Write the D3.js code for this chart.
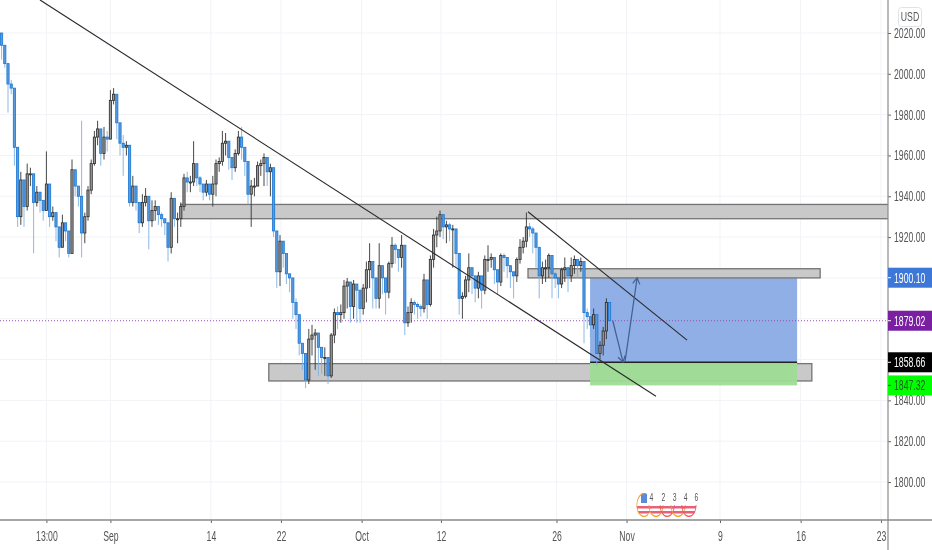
<!DOCTYPE html>
<html>
<head>
<meta charset="utf-8">
<script src="https://d3js.org/d3.v7.min.js"></script>
<style>
    html, body { margin: 0; padding: 0; background: #fff; overflow: hidden; }
    text { font-family: "Liberation Sans", sans-serif; }
    svg { filter: blur(0.35px); }
</style>
</head>
<body>
<div id="chart"></div>
<script>
// Price bars, open of a bar is the previous close
const firstOpen = 2020;
const closes = [
    2014,2005,1995,1993,1964,1930,1948,1935,1951,1951,
    1937,1942,1938,1933,1946,1930,1932,1925,1915,1927,
    1923,1912,1953,1945,1940,1922,1930,1943,1956,1969,
    1973,1961,1969,1968,1987,1990,1976,1966,1964,1965,
    1937,1945,1937,1927,1937,1940,1928,1933,1935,1931,
    1929,1927,1915,1939,1929,1929,1935,1949,1947,1947,
    1956,1949,1946,1942,1946,1941,1946,1956,1957,1966,
    1967,1959,1954,1961,1969,1964,1957,1941,1945,1945,
    1955,1956,1959,1952,1954,1923,1903,1918,1912,1902,
    1900,1888,1882,1868,1863,1850,1870,1872,1873,1866,
    1861,1861,1852,1872,1883,1882,1883,1896,1898,1886,
    1897,1894,1885,1895,1904,1908,1900,1890,1906,1900,
    1893,1907,1916,1914,1910,1916,1878,1883,1888,1887,
    1886,1885,1899,1887,1909,1921,1923,1931,1925,1926,
    1924,1924,1912,1890,1891,1899,1905,1901,1895,1901,
    1894,1909,1909,1910,1904,1898,1911,1910,1906,1903,
    1901,1909,1915,1918,1925,1924,1922,1915,1901,1905,
    1905,1911,1902,1900,1897,1904,1905,1901,1906,1909,
    1906,1908,1883,1881,1877,1882,1863,1867,1874,1888,1879
];
const highs = [
    2020,2014,2005,1997,1993,1964,1952,1948,1956,1954,
    1951,1945,1942,1938,1962,1946,1935,1932,1925,1931,
    1927,1923,1958,1953,1945,1977,1932,1945,1958,1972,
    1977,1973,1974,1972,1992,1993,1990,1976,1970,1967,
    1965,1950,1945,1937,1941,1944,1940,1938,1938,1935,
    1932,1929,1927,1942,1939,1932,1937,1951,1952,1950,
    1967,1956,1950,1946,1948,1946,1950,1958,1959,1972,
    1971,1967,1959,1963,1972,1974,1964,1957,1948,1949,
    1957,1958,1961,1959,1956,1954,1923,1921,1918,1912,
    1902,1900,1890,1882,1868,1863,1875,1877,1875,1873,
    1866,1866,1861,1873,1885,1886,1887,1899,1900,1898,
    1899,1897,1894,1897,1908,1917,1908,1900,1917,1906,
    1900,1908,1920,1917,1914,1921,1916,1886,1890,1889,
    1888,1887,1902,1899,1911,1924,1930,1933,1931,1928,
    1927,1926,1924,1912,1893,1901,1912,1905,1901,1903,
    1901,1911,1916,1912,1910,1904,1912,1912,1910,1906,
    1903,1910,1919,1920,1932,1927,1925,1922,1915,1908,
    1909,1912,1911,1903,1900,1905,1910,1905,1910,1911,
    1909,1910,1908,1885,1881,1885,1882,1869,1876,1890,1888
];
const lows = [
    2007,2003,1981,1990,1955,1925,1926,1925,1933,1945,
    1912,1935,1932,1928,1933,1925,1928,1918,1910,1915,
    1918,1910,1912,1940,1935,1910,1917,1928,1941,1955,
    1965,1955,1958,1962,1968,1985,1968,1960,1950,1960,
    1935,1935,1933,1922,1925,1935,1914,1925,1928,1926,
    1925,1921,1908,1912,1925,1917,1925,1933,1942,1942,
    1945,1945,1942,1938,1940,1938,1935,1940,1952,1955,
    1960,1953,1948,1952,1960,1958,1950,1936,1925,1940,
    1945,1950,1945,1945,1940,1920,1895,1896,1905,1897,
    1893,1880,1875,1862,1855,1846,1848,1862,1855,1852,
    1853,1852,1848,1851,1868,1875,1878,1880,1885,1878,
    1880,1878,1878,1882,1888,1895,1885,1885,1885,1892,
    1882,1890,1905,1907,1903,1905,1872,1876,1878,1882,
    1880,1881,1883,1880,1886,1905,1915,1920,1919,1917,
    1918,1905,1905,1882,1880,1890,1893,1892,1888,1890,
    1885,1892,1903,1905,1897,1892,1896,1903,1900,1895,
    1890,1898,1907,1912,1915,1920,1912,1905,1890,1897,
    1898,1900,1890,1895,1890,1895,1898,1893,1898,1902,
    1900,1903,1868,1875,1871,1875,1857,1860,1862,1870,1875
];

// Axis labels, time ticks are given in bar units
const timeLabels = ["13:00","Sep","14","22","Oct","12","26","Nov","9","16","23"];
const timeBars = [14,34,65.4,87.3,112.5,137.3,173.4,195.3,224.5,249.7,274.8];
const gridPrices = [2020,2000,1980,1960,1940,1920,1900,1880,1860,1840,1820,1800];
const labelPrices = [2020,2000,1980,1960,1940,1920,1840,1820,1800];

// Drawings on the chart, as [bar, price]
const zoneBars = [[56,285],[164.5,255.8],[83.5,253.2]];
const zonePrices = [[1936,1929],[1904.5,1900],[1858,1849.5]];
const mainTrend = [[12,2036.2],[204.5,1842]];
const upperTrend = [[164.5,1932.4],[214.2,1869.5]];
const arrowDown = [[191,1879],[194.2,1858.7]];
const arrowUp = [[194.8,1858.7],[198.6,1900]];

// Long position tool and price labels
const posBars = [183.9,248.6];
const targetPrice = 1900.10, lastPrice = 1879.02, entryPrice = 1858.66, stopPrice = 1847.32;
const priceTags = [
    { price: targetPrice, fill: "#3d78d8", color: "#fff" },
    { price: lastPrice, fill: "#7b1fa2", color: "#fff" },
    { price: entryPrice, fill: "#000", color: "#fff" },
    { price: stopPrice, fill: "#00ff00", color: "#1a5c1a" }
];

// Event badges under the price bars
const eventBars = [200.75,204.5,208,211.4,214.8];
const eventColors = ["#f59a23","#f59a23","#ef5350","#f59a23","#ef5350"];
const eventCounts = ["4","2","3","4","6"];

const width = 932, height = 550;
const plotW = 888, plotH = 520;
const textK = 0.62;

const x = d3.scaleLinear().domain([0, 277.5]).range([1.6, 889.6]);
const y = d3.scaleLinear().domain([2020, 1800]).range([33, 482]);

const svg = d3.select("#chart").append("svg")
    .attr("width", width)
    .attr("height", height)
    .style("display", "block");

svg.append("defs").append("clipPath").attr("id", "plot")
    .append("rect").attr("width", plotW).attr("height", plotH);

// grid
svg.append("g").selectAll("line").data(gridPrices).join("line")
    .attr("x1", 0).attr("x2", plotW)
    .attr("y1", d => y(d)).attr("y2", d => y(d))
    .attr("stroke", "#f1f3f7");
svg.append("g").selectAll("line").data(timeBars).join("line")
    .attr("x1", d => x(d)).attr("x2", d => x(d))
    .attr("y1", 0).attr("y2", plotH)
    .attr("stroke", "#f1f3f7");

const plot = svg.append("g").attr("clip-path", "url(#plot)");

// position tool
plot.append("rect")
    .attr("x", x(posBars[0])).attr("width", x(posBars[1]) - x(posBars[0]))
    .attr("y", y(targetPrice)).attr("height", y(entryPrice) - y(targetPrice))
    .attr("fill", "#8fafe6");

// zones
plot.selectAll(".zone").data(zoneBars).join("rect")
    .attr("class", "zone")
    .attr("x", d => x(d[0])).attr("width", d => x(d[1]) - x(d[0]))
    .attr("y", (d, i) => y(zonePrices[i][0]))
    .attr("height", (d, i) => y(zonePrices[i][1]) - y(zonePrices[i][0]))
    .attr("fill", "#c9c9c9")
    .attr("stroke", "#747474")
    .attr("stroke-width", 1.3);

plot.append("rect")
    .attr("x", x(posBars[0])).attr("width", x(posBars[1]) - x(posBars[0]))
    .attr("y", y(entryPrice)).attr("height", y(stopPrice) - y(entryPrice))
    .attr("fill", "#9fdc96")
    .attr("fill-opacity", 0.95);
plot.append("line")
    .attr("x1", x(posBars[0])).attr("x2", x(posBars[1]))
    .attr("y1", y(entryPrice)).attr("y2", y(entryPrice))
    .attr("stroke", "#222").attr("stroke-width", 1.6);

// last price line
plot.append("line")
    .attr("x1", 0).attr("x2", plotW)
    .attr("y1", y(lastPrice)).attr("y2", y(lastPrice))
    .attr("stroke", "#9c4fb5")
    .attr("stroke-dasharray", "1 2");

// candles
const bars = closes.map((c, i) => ({
    i: i,
    o: i === 0 ? firstOpen : closes[i - 1],
    h: highs[i],
    l: lows[i],
    c: c
}));
const bw = 2.2;
const candle = plot.append("g").selectAll("g").data(bars).join("g");
candle.append("line")
    .attr("x1", d => x(d.i)).attr("x2", d => x(d.i))
    .attr("y1", d => y(d.h)).attr("y2", d => y(d.l))
    .attr("stroke", d => d.c >= d.o ? "#333" : "#7fb0e2")
    .attr("stroke-width", 0.9);
candle.append("rect")
    .attr("x", d => x(d.i) - bw / 2)
    .attr("width", bw)
    .attr("y", d => y(Math.max(d.o, d.c)))
    .attr("height", d => Math.max(1, Math.abs(y(d.o) - y(d.c))))
    .attr("fill", d => d.c >= d.o ? "#999" : "#5b9bdc")
    .attr("stroke", d => d.c >= d.o ? "#2a2a2a" : "#1976d2")
    .attr("stroke-width", 0.8);

// trend lines
const pt = d3.line().x(d => x(d[0])).y(d => y(d[1]));
plot.append("path").attr("d", pt(mainTrend))
    .attr("fill", "none").attr("stroke", "#2b2b2b").attr("stroke-width", 1.1);
plot.append("path").attr("d", pt(upperTrend))
    .attr("fill", "none").attr("stroke", "#2b2b2b").attr("stroke-width", 1.1);

// arrows
function arrow(a) {
    const col = "#40608f";
    plot.append("path").attr("d", pt(a))
        .attr("fill", "none").attr("stroke", col).attr("stroke-width", 1.2);
    const x0 = x(a[0][0]), y0 = y(a[0][1]), x1 = x(a[1][0]), y1 = y(a[1][1]);
    const ang = Math.atan2(y1 - y0, x1 - x0);
    const s = 7;
    const head = [ang - 2.6, ang + 2.6].map(t => [x1 + s * Math.cos(t), y1 + s * Math.sin(t)]);
    plot.append("path")
        .attr("d", `M${head[0]}L${x1},${y1}L${head[1]}`)
        .attr("fill", "none").attr("stroke", col).attr("stroke-width", 1.2);
}
arrow(arrowDown);
arrow(arrowUp);

// event badges, squeezed sideways like the rest of the reference
const badgeY = 505, badgeRx = 7.5, badgeRy = 12;
eventBars.forEach((b, i) => {
    const cx = x(b);
    const id = "badge" + i;
    svg.select("defs").append("clipPath").attr("id", id)
        .append("ellipse").attr("cx", cx).attr("cy", badgeY).attr("rx", badgeRx).attr("ry", badgeRy);
    const g = svg.append("g");
    const flag = g.append("g").attr("clip-path", `url(#${id})`);
    if (i === 0) {
        flag.append("rect").attr("x", cx - badgeRx).attr("y", badgeY - badgeRy)
            .attr("width", badgeRx * 2).attr("height", badgeRy * 2).attr("fill", "#fff");
        flag.append("rect").attr("x", cx - 3).attr("y", badgeY - badgeRy)
            .attr("width", 6).attr("height", 10).attr("fill", "#5b8bd8");
    }
    [0, 5].forEach(dy => flag.append("rect")
        .attr("x", cx - badgeRx).attr("y", badgeY + 1 + dy)
        .attr("width", badgeRx * 2).attr("height", 2.5).attr("fill", "#e8607a"));
    // the later badges only show their lower arc
    g.append("path")
        .attr("d", d3.arc()({
            innerRadius: 0.9, outerRadius: 1,
            startAngle: i === 0 ? -Math.PI * 1.2 : Math.PI * 0.5,
            endAngle: i === 0 ? Math.PI * 0.0 : Math.PI * 1.5
        }))
        .attr("transform", `translate(${cx},${badgeY}) scale(${badgeRx},${badgeRy})`)
        .attr("fill", eventColors[i]);
});
svg.append("g").selectAll("text").data(eventCounts).join("text")
    .attr("text-anchor", "middle")
    .attr("font-size", 11)
    .attr("fill", "#555")
    .attr("transform", (d, i) => `translate(${x(eventBars[i]) + 7.5},${badgeY - 4.5}) scale(${textK},1)`)
    .text(d => d);

// narrow the glyphs with a transform, the reference picture was squeezed sideways
function squeeze(sel, left) {
    sel.attr("x", function () { return (+this.getAttribute("x") || 0) / textK; })
        .attr("transform", `scale(${textK},1)`);
}

// axes
const priceAxis = svg.append("g")
    .attr("transform", `translate(${plotW},0)`)
    .call(d3.axisRight(y).tickValues(labelPrices).tickFormat(d3.format(".2f")).tickSize(3).tickPadding(3));
priceAxis.select(".domain").remove();
priceAxis.selectAll("line").attr("stroke", "#666");
priceAxis.selectAll("text")
    .attr("font-size", 14).attr("font-family", "Liberation Sans").attr("fill", "#555")
    .call(squeeze);

const timeAxis = svg.append("g")
    .attr("transform", `translate(0,${plotH})`)
    .call(d3.axisBottom(x).tickValues(timeBars).tickFormat((d, i) => timeLabels[i]).tickSize(3).tickPadding(8));
timeAxis.select(".domain").remove();
timeAxis.selectAll("line").attr("stroke", "#666");
timeAxis.selectAll("text")
    .attr("font-size", 14).attr("font-family", "Liberation Sans").attr("fill", "#555")
    .call(squeeze);

svg.append("line").attr("x1", 0).attr("x2", width).attr("y1", plotH).attr("y2", plotH)
    .attr("stroke", "#8a8a8a").attr("stroke-width", 1.5);
svg.append("line").attr("x1", plotW).attr("x2", plotW).attr("y1", 0).attr("y2", height)
    .attr("stroke", "#8a8a8a").attr("stroke-width", 1.2);

// price tags
const tags = svg.append("g").selectAll("g").data(priceTags).join("g")
    .attr("transform", d => `translate(${plotW},${y(d.price)})`);
tags.append("rect")
    .attr("x", 0).attr("y", -10)
    .attr("width", width - plotW).attr("height", 20)
    .attr("fill", d => d.fill);
tags.append("line").attr("x1", 0).attr("x2", 3).attr("stroke", d => d.color);
tags.append("text")
    .attr("x", 6).attr("dy", "0.35em")
    .attr("font-size", 14).attr("fill", d => d.color)
    .text(d => d.price.toFixed(2))
    .call(squeeze);

// currency button
svg.append("rect")
    .attr("x", 898.5).attr("y", 7.5).attr("width", 23).attr("height", 19).attr("rx", 3)
    .attr("fill", "#fff").attr("stroke", "#dfe2e8");
svg.append("text")
    .attr("y", 17).attr("dy", "0.35em")
    .attr("text-anchor", "middle")
    .attr("font-size", 12.5).attr("fill", "#555")
    .attr("transform", `translate(910,0) scale(${textK + 0.08},1)`)
    .text("USD");
</script>
</body>
</html>
